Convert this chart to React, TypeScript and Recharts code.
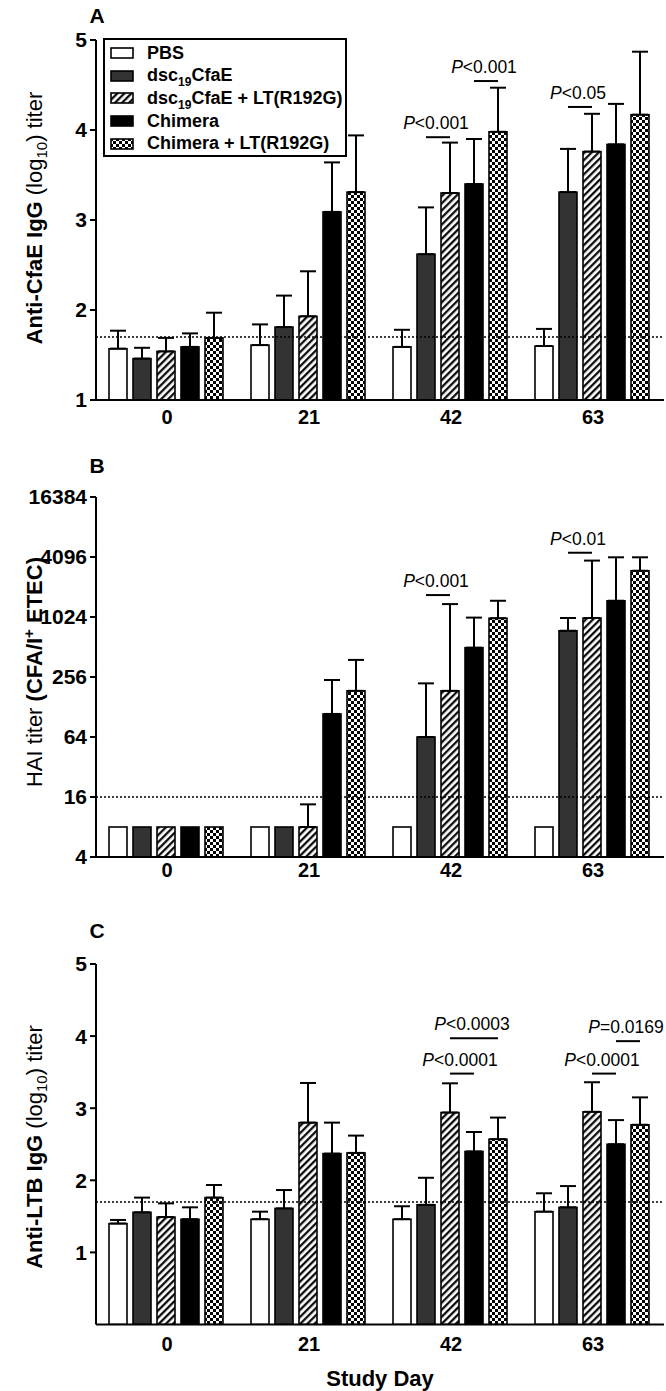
import React from 'react';
import { BarChart, Bar, XAxis, YAxis, ErrorBar, ReferenceLine, Legend } from 'recharts';

const days = ['0', '21', '42', '63'];
const seriesKeys = ['pbs', 'dsc', 'dscLt', 'chi', 'chiLt'];

// Panel A: Anti-CfaE IgG (log10) titer — bar means and upper whisker values
const pbsA = [1.57, 1.61, 1.59, 1.6];
const pbsATop = [1.77, 1.84, 1.78, 1.79];
const dscA = [1.46, 1.81, 2.62, 3.31];
const dscATop = [1.58, 2.16, 3.14, 3.79];
const dscLtA = [1.54, 1.93, 3.3, 3.76];
const dscLtATop = [1.69, 2.43, 3.86, 4.18];
const chiA = [1.59, 3.09, 3.4, 3.84];
const chiATop = [1.74, 3.64, 3.9, 4.29];
const chiLtA = [1.69, 3.31, 3.98, 4.17];
const chiLtATop = [1.97, 3.94, 4.47, 4.87];
const ticksA = [1, 2, 3, 4, 5];

// Panel B: HAI titer
const pbsB = [8, 8, 8, 8];
const pbsBTop = [null, null, null, null];
const dscB = [8, 8, 64, 745];
const dscBTop = [null, null, 221, 1000];
const dscLtB = [8, 8, 186, 1000];
const dscLtBTop = [null, 13.5, 1380, 3770];
const chiB = [8, 109, 504, 1490];
const chiBTop = [null, 239, 1010, 4068];
const chiLtB = [8, 186, 995, 2980];
const chiLtBTop = [null, 380, 1490, 4068];
const ticksB = [4, 16, 64, 256, 1024, 4096, 16384];

// Panel C: Anti-LTB IgG (log10) titer
const pbsC = [1.4, 1.46, 1.46, 1.565];
const pbsCTop = [1.45, 1.565, 1.64, 1.82];
const dscC = [1.556, 1.61, 1.66, 1.625];
const dscCTop = [1.76, 1.865, 2.035, 1.92];
const dscLtC = [1.49, 2.8, 2.94, 2.95];
const dscLtCTop = [1.68, 3.35, 3.345, 3.36];
const chiC = [1.46, 2.37, 2.4, 2.5];
const chiCTop = [1.625, 2.8, 2.67, 2.835];
const chiLtC = [1.76, 2.38, 2.57, 2.77];
const chiLtCTop = [1.935, 2.62, 2.87, 3.15];
const ticksC = [1, 2, 3, 4, 5];

// Significance annotations: day, from series, to series, line level (data units), text
const annA = [
  { day: '42', from: 1, to: 2, level: 3.92, text: '<0.001' },
  { day: '42', from: 3, to: 4, level: 4.544, text: '<0.001' },
  { day: '63', from: 1, to: 2, level: 4.256, text: '<0.05' },
];
const annB = [
  { day: '42', from: 1, to: 2, level: 1700, text: '<0.001' },
  { day: '63', from: 1, to: 2, level: 4520, text: '<0.01' },
];
const annC = [
  { day: '42', from: 2, to: 4, level: 3.97, text: '<0.0003' },
  { day: '42', from: 2, to: 3, level: 3.48, text: '<0.0001' },
  { day: '63', from: 3, to: 4, level: 3.93, text: '=0.0169' },
  { day: '63', from: 2, to: 3, level: 3.48, text: '<0.0001' },
];

const FONT = '"Liberation Sans", Arial, Helvetica, sans-serif';
const BAR_GAP = 6;

const buildRows = (means: number[][], tops: (number | null)[][]) =>
  days.map((d, i) => {
    const row: any = { day: d };
    seriesKeys.forEach((k, s) => {
      row[k] = means[s][i];
      const t = tops[s][i];
      row[k + 'Err'] = t == null ? null : [0, t - means[s][i]];
    });
    return row;
  });

const rowsA = buildRows([pbsA, dscA, dscLtA, chiA, chiLtA], [pbsATop, dscATop, dscLtATop, chiATop, chiLtATop]);
const rowsB = buildRows([pbsB, dscB, dscLtB, chiB, chiLtB], [pbsBTop, dscBTop, dscLtBTop, chiBTop, chiLtBTop]);
const rowsC = buildRows([pbsC, dscC, dscLtC, chiC, chiLtC], [pbsCTop, dscCTop, dscLtCTop, chiCTop, chiLtCTop]);

const fillFor = (s: number, id: string) =>
  ['#ffffff', '#333333', `url(#hatch-${id})`, '#000000', `url(#checker-${id})`][s];

const Patterns = ({ id }: { id: string }) => (
  <defs>
    <pattern id={`hatch-${id}`} patternUnits="userSpaceOnUse" width={5} height={5} patternTransform="rotate(45)">
      <rect x={0} y={0} width={5} height={5} fill="#fff" />
      <line x1={1.2} y1={0} x2={1.2} y2={5} stroke="#000" strokeWidth={2.2} />
    </pattern>
    <pattern id={`checker-${id}`} patternUnits="userSpaceOnUse" width={6} height={6}>
      <rect x={0} y={0} width={6} height={6} fill="#fff" />
      <rect x={0} y={0} width={3} height={3} fill="#000" />
      <rect x={3} y={3} width={3} height={3} fill="#000" />
    </pattern>
  </defs>
);

type Panel = { id: string; log: boolean; base: number; ann: any[] };

const makeShape = (panel: Panel, s: number) => (props: any) => {
  const { x, y, width, height, payload, fill } = props;
  const v = payload[seriesKeys[s]];
  const baseY = y + height;
  const toPix = (L: number) =>
    panel.log
      ? baseY - ((Math.log(L) - Math.log(panel.base)) / (Math.log(v) - Math.log(panel.base))) * height
      : baseY - ((L - panel.base) / (v - panel.base)) * height;
  const anns = panel.ann.filter((a) => a.day === payload.day && a.from === s);
  const pitch = width + BAR_GAP;
  return (
    <g>
      <rect x={x} y={y} width={width} height={height} fill={fill} stroke="#000" strokeWidth={1.6} />
      {anns.map((a, i) => {
        const x1 = x + width / 2;
        const x2 = x1 + (a.to - a.from) * pitch;
        const ly = toPix(a.level);
        return (
          <g key={i}>
            <line x1={x1} x2={x2} y1={ly} y2={ly} stroke="#000" strokeWidth={2} />
            <text x={(x1 + x2) / 2 - 2} y={ly - 8} textAnchor="middle" fontFamily={FONT} fontSize={17.5} fill="#000">
              <tspan fontStyle="italic">P</tspan>
              {a.text}
            </text>
          </g>
        );
      })}
    </g>
  );
};

const legendLabels = [
  <span>PBS</span>,
  <span>dsc<sub style={{ fontSize: 12, lineHeight: 0 }}>19</sub>CfaE</span>,
  <span>dsc<sub style={{ fontSize: 12, lineHeight: 0 }}>19</sub>CfaE + LT(R192G)</span>,
  <span>Chimera</span>,
  <span>Chimera + LT(R192G)</span>,
];

const LegendBox = () => (
  <div
    style={{
      width: 244,
      boxSizing: 'border-box',
      border: '2px solid #000',
      background: '#fff',
      padding: '2px 0 0 5px',
      fontFamily: FONT,
      fontWeight: 'bold',
      fontSize: 18,
      color: '#000',
    }}
  >
    {legendLabels.map((lab, i) => (
      <div key={i} style={{ display: 'flex', alignItems: 'center', height: 22.6, whiteSpace: 'nowrap' }}>
        <svg width={24} height={12} style={{ marginRight: 13, flex: 'none' }}>
          <rect x={1} y={1} width={22} height={10} fill={fillFor(i, 'A')} stroke="#000" strokeWidth={1.6} />
        </svg>
        {lab}
      </div>
    ))}
  </div>
);

const PanelChart = ({
  rows, panel, height, margin, xHeight, tickMargin, domain, ticks, refY, legend,
}: any) => (
  <BarChart width={666} height={height} data={rows} margin={margin} barGap={BAR_GAP} barCategoryGap={13}>
    <Patterns id={panel.id} />
    <XAxis
      dataKey="day"
      height={xHeight}
      tickLine={false}
      tickSize={0}
      tickMargin={tickMargin}
      axisLine={{ stroke: '#000', strokeWidth: 2 }}
      tick={{ fontSize: 20, fontWeight: 700, fill: '#000', fontFamily: FONT }}
    />
    <YAxis
      type="number"
      scale={panel.log ? 'log' : 'linear'}
      domain={domain}
      ticks={ticks}
      interval={0}
      allowDataOverflow
      width={96}
      tickSize={6}
      tickMargin={3}
      axisLine={{ stroke: '#000', strokeWidth: 2 }}
      tickLine={{ stroke: '#000', strokeWidth: 2 }}
      tick={{ fontSize: 21, fontWeight: 700, fill: '#000', fontFamily: FONT }}
    />
    <ReferenceLine y={refY} stroke="#000" strokeWidth={1.6} strokeDasharray="2 2" />
    {legend && (
      <Legend
        layout="vertical"
        align="center"
        verticalAlign="middle"
        content={() => <LegendBox />}
        wrapperStyle={{ position: 'absolute', top: 38, left: 103, width: 244 }}
      />
    )}
    {seriesKeys.map((k, s) => (
      <Bar key={k} dataKey={k} fill={fillFor(s, panel.id)} isAnimationActive={false} shape={makeShape(panel, s)}>
        <ErrorBar dataKey={k + 'Err'} width={8} strokeWidth={2} stroke="#000" direction="y" />
      </Bar>
    ))}
  </BarChart>
);

const panelA: Panel = { id: 'A', log: false, base: 1, ann: annA };
const panelB: Panel = { id: 'B', log: true, base: 4, ann: annB };
const panelC: Panel = { id: 'C', log: false, base: 0, ann: annC };

const YLabel = ({ cx, cy, children }: any) => (
  <text
    x={cx}
    y={cy + 7}
    transform={`rotate(-90, ${cx}, ${cy})`}
    textAnchor="middle"
    fontFamily={FONT}
    fontSize={22}
    fill="#000"
  >
    {children}
  </text>
);

export default function App() {
  return (
    <div style={{ position: 'absolute', left: 0, top: 0, width: 666, height: 1391, background: '#fff', fontFamily: FONT }}>
      <div style={{ position: 'absolute', left: 0, top: 0 }}>
        <PanelChart
          rows={rowsA}
          panel={panelA}
          height={440}
          margin={{ top: 40, right: 2, bottom: 10, left: 0 }}
          xHeight={30}
          tickMargin={10}
          domain={[1, 5]}
          ticks={ticksA}
          refY={1.7}
          legend
        />
      </div>
      <div style={{ position: 'absolute', left: 0, top: 440 }}>
        <PanelChart
          rows={rowsB}
          panel={panelB}
          height={440}
          margin={{ top: 57, right: 2, bottom: 0, left: 0 }}
          xHeight={23}
          tickMargin={6}
          domain={[4, 16384]}
          ticks={ticksB}
          refY={16}
        />
      </div>
      <div style={{ position: 'absolute', left: 0, top: 880 }}>
        <PanelChart
          rows={rowsC}
          panel={panelC}
          height={511}
          margin={{ top: 84, right: 2, bottom: 26.5, left: 0 }}
          xHeight={40}
          tickMargin={12}
          domain={[0, 5]}
          ticks={ticksC}
          refY={1.7}
        />
      </div>
      <svg width={666} height={1391} style={{ position: 'absolute', left: 0, top: 0, pointerEvents: 'none' }}>
        <text x={97} y={23} textAnchor="middle" fontFamily={FONT} fontWeight={700} fontSize={21}>A</text>
        <text x={97} y={473} textAnchor="middle" fontFamily={FONT} fontWeight={700} fontSize={21}>B</text>
        <text x={97} y={938} textAnchor="middle" fontFamily={FONT} fontWeight={700} fontSize={21}>C</text>
        <YLabel cx={35} cy={218}>
          <tspan fontWeight={700}>Anti-CfaE IgG </tspan>
          <tspan>(log</tspan>
          <tspan fontSize={15} dy={5}>10</tspan>
          <tspan dy={-5}>) titer</tspan>
        </YLabel>
        <YLabel cx={35} cy={672}>
          <tspan>HAI titer </tspan>
          <tspan fontWeight={700}>(CFA/I</tspan>
          <tspan fontWeight={700} fontSize={15} dy={-8}>+</tspan>
          <tspan fontWeight={700} dy={8}> ETEC)</tspan>
        </YLabel>
        <YLabel cx={35} cy={1147}>
          <tspan fontWeight={700}>Anti-LTB IgG </tspan>
          <tspan>(log</tspan>
          <tspan fontSize={15} dy={5}>10</tspan>
          <tspan dy={-5}>) titer</tspan>
        </YLabel>
        <text x={380} y={1386} textAnchor="middle" fontFamily={FONT} fontWeight={700} fontSize={22}>Study Day</text>
      </svg>
    </div>
  );
}
